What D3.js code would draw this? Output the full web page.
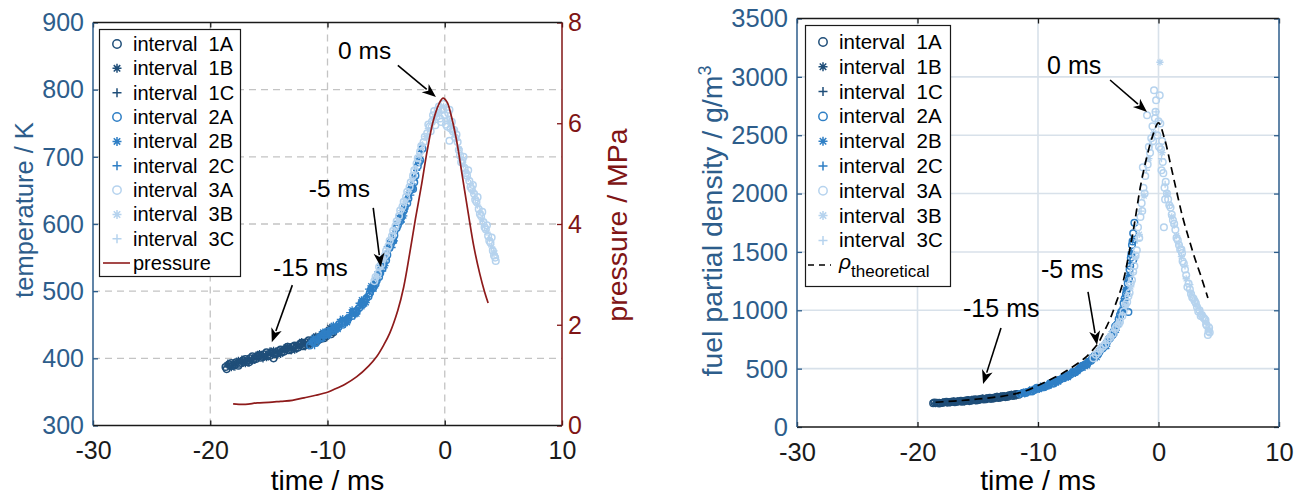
<!DOCTYPE html>
<html><head><meta charset="utf-8">
<script src="https://cdn.jsdelivr.net/npm/d3@7"></script>
<style>
html,body{margin:0;padding:0;background:#fff;}
svg text{font-family:"Liberation Sans",Arial,Helvetica,sans-serif;}
</style></head><body>
<svg id="c" width="1304" height="496"></svg>
<script>
// ---------------- DATA ----------------
const timeTicks = [-30,-20,-10,0,10];
const tempTicks = [300,400,500,600,700,800,900];
const pressTicks = [0,2,4,6,8];
const densTicks = [0,500,1000,1500,2000,2500,3000,3500];
const legendLabels = ["interval  1A","interval  1B","interval  1C","interval  2A","interval  2B","interval  2C","interval  3A","interval  3B","interval  3C"];

// temperature [time ms, K]
const T1A = [[-18.7,387],[-18.4,391],[-18.1,389],[-17.8,394],[-17.5,392],[-17.2,397],[-16.9,395],[-16.6,400],[-16.3,398],[-16.0,403],[-15.7,401],[-15.4,406],[-15.1,403],[-14.8,409],[-14.6,400],[-14.5,406],[-14.2,411],[-13.9,409],[-13.6,414],[-13.3,412],[-13.0,417],[-12.7,415],[-12.4,420],[-12.1,418],[-11.8,424],[-11.5,422],[-11.2,428],[-10.9,426],[-10.6,432],[-10.3,430],[-10.0,438],[-9.7,436],[-9.4,443],
  [-18.6,384],[-18.2,393],[-17.9,390],[-17.6,389],[-17.3,393],[-17.0,399],[-16.7,394],[-16.4,403],[-16.1,399],[-15.8,405],[-15.5,402],[-15.2,409],[-14.9,404],[-14.3,407],[-14.0,413],[-13.7,410],[-13.4,417],[-13.1,413],[-12.8,419],[-12.5,416],[-12.2,423],[-11.9,419],[-11.6,427],[-11.3,424],[-11.0,431],[-10.7,428],[-10.4,436],[-10.1,433],[-9.8,441],[-9.5,439]];
const T1B = [[-18.55,390],[-18.0,392],[-17.4,395],[-16.8,398],[-16.2,402],[-15.6,404],[-15.0,407],[-14.4,410],[-13.8,412],[-13.2,415],[-12.6,419],[-12.0,422],[-11.4,426],[-10.8,431],[-10.2,436],[-9.6,441],
  [-18.2,386],[-17.6,397],[-17.0,392],[-16.4,396],[-15.8,407],[-15.2,401],[-14.6,412],[-14.0,406],[-13.4,418],[-12.8,412],[-12.2,425],[-11.6,419],[-11.0,433],[-10.4,429],[-9.8,446]];
const T1C = [[-18.3,388],[-17.7,393],[-17.1,396],[-16.5,399],[-15.9,401],[-15.3,405],[-14.7,407],[-14.1,409],[-13.5,413],[-12.9,416],[-12.3,419],[-11.7,423],[-11.1,427],[-10.5,433],[-9.9,437],[-9.3,444],
  [-18.5,393],[-17.9,387],[-17.3,399],[-16.7,393],[-16.1,405],[-15.5,399],[-14.9,411],[-14.3,404],[-13.7,416],[-13.1,411],[-12.5,422],[-11.9,417],[-11.3,430],[-10.7,426],[-10.1,441]];
const T2A = [[-11.5,419],[-11.2,425],[-10.9,428],[-10.6,431],[-10.3,435],[-10.0,436],[-9.7,441],[-9.4,444],[-9.1,446],[-8.8,452],[-8.5,454],[-8.2,460],[-7.9,463],[-7.6,469],[-7.3,475],[-7.0,480],[-6.7,489],[-6.4,497],[-6.1,505],[-5.8,516],[-5.5,527],[-5.2,541],[-4.9,554],[-4.6,570],[-4.3,583],[-4.0,598],[-3.7,610],[-3.4,626],[-3.1,638],[-2.8,655],[-2.7,652],[-2.5,672],[-2.2,692],[-1.9,712],
  [-11.0,423],[-10.5,430],[-10.1,439],[-9.5,441],[-9.0,451],[-8.7,450],[-8.3,457],[-7.8,468],[-7.5,470],[-7.1,482],[-6.9,484],[-6.5,492],[-6.3,502],[-5.9,511],[-5.6,521],[-5.3,534],[-5.0,546],[-4.7,565],[-4.4,575],[-4.1,594],[-3.8,604],[-3.5,620],[-3.2,631],[-2.9,651],[-2.6,662],[-2.3,686],[-2.1,695]];
const T2B = [[-11.4,424],[-11.0,428],[-10.6,433],[-10.2,437],[-9.8,440],[-9.4,446],[-9.0,449],[-8.6,456],[-8.2,461],[-7.8,467],[-7.4,474],[-7.0,484],[-6.6,492],[-6.2,503],[-5.8,520],[-5.4,535],[-5.0,550],[-4.6,574],[-4.2,590],[-3.8,608],[-3.4,622],[-3.0,646],[-2.6,668],[-2.2,698],
  [-11.2,430],[-10.8,426],[-10.4,439],[-9.9,434],[-9.5,449],[-9.1,443],[-8.7,459],[-8.3,453],[-7.9,472],[-7.5,466],[-7.1,487],[-6.7,483],[-6.3,508],[-5.9,508],[-5.5,538],[-5.1,538],[-4.7,572],[-4.3,575],[-3.9,610],[-3.5,612],[-3.1,645],[-2.7,652]];
const T2C = [[-11.3,421],[-10.8,430],[-10.4,434],[-10.0,440],[-9.6,443],[-9.2,447],[-8.8,455],[-8.4,458],[-8.0,465],[-7.6,472],[-7.2,479],[-6.8,487],[-6.4,500],[-6.0,512],[-5.6,525],[-5.2,545],[-4.8,560],[-4.4,580],[-4.0,602],[-3.6,617],[-3.2,635],[-2.8,660],[-2.4,680],[-2.0,708],
  [-11.1,419],[-10.7,435],[-10.3,431],[-9.7,446],[-9.3,441],[-8.9,458],[-8.5,451],[-8.1,468],[-7.7,463],[-7.3,482],[-6.9,478],[-6.5,503],[-6.1,500],[-5.7,529],[-5.3,530],[-4.9,566],[-4.5,565],[-4.1,603],[-3.7,603],[-3.3,638],[-2.9,643],[-2.5,676]];
const T3A = [[-6.0,515],[-5.7,526],[-5.4,540],[-5.1,553],[-4.8,567],[-4.5,582],[-4.2,597],[-3.9,612],[-3.6,626],[-3.3,640],[-3.0,655],[-2.7,672],[-2.4,690],[-2.1,708],[-1.8,722],[-1.5,735],[-1.3,745],[-1.1,752],[-0.9,768],[-0.7,760],[-0.5,775],[-0.4,757],[-0.2,770],[0.0,762],[0.1,748],[0.3,765],[0.4,724],[0.5,742],[0.7,738],[0.9,728],[1.1,722],[1.3,702],[1.5,695],[1.7,683],[1.9,672],[2.1,664],[2.3,652],[2.5,645],[2.7,633],[2.9,622],[3.1,612],[3.3,603],[3.5,592],[3.7,582],[3.9,572],[4.1,560],[4.3,550],
  [-5.9,521],[-5.6,536],[-5.3,548],[-5.0,560],[-4.7,575],[-4.4,590],[-4.1,604],[-3.8,620],[-3.5,633],[-3.2,648],[-2.9,662],[-2.6,680],[-2.3,698],[-2.0,716],[-1.7,730],[-1.4,748],[-1.2,738],[-1.0,762],[-0.8,747],[-0.6,770],[-0.3,752],[-0.1,779],[0.2,745],[0.4,770],[0.6,752],[0.8,740],[1.0,733],[1.2,710],[1.4,692],[1.6,700],[1.8,676],[2.0,680],[2.2,655],[2.4,658],[2.6,636],[2.8,640],[3.0,615],[3.2,618],[3.4,595],[3.6,598],[3.8,575],[4.0,580],[4.2,553],[4.35,545]];
const T3B = [[-5.8,522],[-5.2,548],[-4.6,578],[-4.0,605],[-3.4,634],[-2.8,666],[-2.2,702],[-1.6,730],[-1.0,757],[-0.6,765],[-0.1,775],[0.4,752],[0.8,733],[1.2,712],[1.6,688],[2.0,668],[2.4,648],[2.8,628],[3.2,606],[3.6,588],[4.0,566],[4.2,556]];
const T3C = [[-5.5,533],[-4.9,560],[-4.3,591],[-3.7,620],[-3.1,648],[-2.5,682],[-1.9,718],[-1.4,742],[-0.8,760],[-0.3,768],[0.2,758],[0.6,745],[1.0,725],[1.4,698],[1.8,678],[2.2,660],[2.6,638],[3.0,618],[3.4,596],[3.8,578],[4.2,560]];

// pressure [time ms, MPa]
const pressure = [[-18.05,0.43],[-17,0.42],[-16,0.45],[-15,0.46],[-14,0.48],[-13,0.5],[-12,0.55],[-11,0.6],[-10,0.66],[-9.5,0.71],[-8.5,0.82],[-7.5,0.97],[-6.5,1.18],[-5.8,1.37],[-5.2,1.6],[-4.7,1.83],[-4.0,2.29],[-3.5,2.75],[-3.0,3.4],[-2.5,4.1],[-2.0,4.75],[-1.5,5.45],[-1.0,6.03],[-0.5,6.38],[-0.15,6.5],[0.2,6.42],[0.5,6.2],[1.0,5.67],[1.5,4.95],[2.0,4.22],[2.5,3.53],[3.0,3.0],[3.4,2.65],[3.7,2.43]];

// fuel partial density [time ms, g/m3]
const D1A = [[-18.7,203],[-18.4,208],[-18.1,205],[-17.8,212],[-17.5,209],[-17.2,216],[-16.9,213],[-16.6,221],[-16.3,217],[-16.0,226],[-15.7,222],[-15.4,233],[-15.1,228],[-14.8,240],[-14.5,235],[-14.2,246],[-13.9,241],[-13.6,253],[-13.3,248],[-13.0,262],[-12.7,256],[-12.4,272],[-12.1,266],[-11.8,282],[-11.6,276],
  [-18.6,210],[-18.2,201],[-17.9,207],[-17.6,215],[-17.3,211],[-17.0,220],[-16.7,216],[-16.4,224],[-16.1,220],[-15.8,230],[-15.5,226],[-15.2,237],[-14.9,232],[-14.6,244],[-14.3,238],[-14.0,250],[-13.7,245],[-13.4,258],[-13.1,252],[-12.8,266],[-12.5,260],[-12.2,276],[-11.9,270]];
const D1B = [[-18.55,206],[-18.0,209],[-17.4,214],[-16.8,218],[-16.2,223],[-15.6,229],[-15.0,236],[-14.4,242],[-13.8,249],[-13.2,257],[-12.6,266],[-12.0,274],[-11.7,284],
  [-18.2,212],[-17.6,208],[-17.0,222],[-16.4,217],[-15.8,233],[-15.2,226],[-14.6,247],[-14.0,240],[-13.4,262],[-12.8,254],[-12.2,280],[-11.8,270]];
const D1C = [[-18.3,210],[-17.7,210],[-17.1,217],[-16.5,222],[-15.9,225],[-15.3,232],[-14.7,238],[-14.1,245],[-13.5,252],[-12.9,259],[-12.3,270],[-11.9,279],
  [-18.5,201],[-17.9,214],[-17.3,208],[-16.7,224],[-16.1,216],[-15.5,236],[-14.9,230],[-14.3,249],[-13.7,243],[-13.1,264],[-12.5,258],[-12.0,282]];
const D2A = [[-11.5,283],[-11.2,293],[-10.9,300],[-10.6,310],[-10.3,318],[-10.0,328],[-9.7,338],[-9.4,350],[-9.1,360],[-8.8,378],[-8.5,388],[-8.2,405],[-7.9,418],[-7.6,435],[-7.3,450],[-7.0,468],[-6.7,488],[-6.4,510],[-6.1,532],[-5.8,558],[-5.5,585],[-5.2,612],[-4.9,645],[-4.6,680],[-4.3,722],[-4.0,765],[-3.7,820],[-3.5,870],[-3.3,925],[-3.1,985],[-2.9,1060],[-2.7,1140],[-2.55,1230],[-2.4,1350],[-2.3,1450],[-2.2,1560],[-2.1,1660],[-2.0,1750],[-2.5,985],[-2.1,1430],
  [-11.0,292],[-10.5,305],[-10.1,335],[-9.5,340],[-9.0,375],[-8.7,372],[-8.3,398],[-7.8,432],[-7.5,435],[-7.1,470],[-6.9,470],[-6.5,505],[-6.3,525],[-5.9,545],[-5.6,568],[-5.3,610],[-5.0,625],[-4.7,670],[-4.4,700],[-4.1,755],[-3.8,790],[-3.6,860],[-3.4,880],[-3.2,960],[-3.0,990],[-2.8,1100],[-2.65,1170],[-2.45,1270],[-2.35,1380],[-2.25,1480],[-2.15,1590]];
const D2B = [[-11.4,290],[-11.0,298],[-10.6,314],[-10.2,324],[-9.8,338],[-9.4,346],[-9.0,368],[-8.6,384],[-8.2,410],[-7.8,424],[-7.4,455],[-7.0,472],[-6.6,500],[-6.2,522],[-5.8,565],[-5.4,592],[-5.0,640],[-4.6,672],[-4.2,740],[-3.8,800],[-3.4,900],[-3.0,1010],[-2.7,1180],[-2.45,1300],[-2.25,1500],
  [-11.2,300],[-10.8,296],[-10.3,330],[-9.9,322],[-9.5,355],[-9.1,350],[-8.7,390],[-8.3,385],[-7.9,430],[-7.5,425],[-7.1,475],[-6.7,475],[-6.3,530],[-5.9,525],[-5.5,600],[-5.1,595],[-4.7,690],[-4.3,690],[-3.9,800],[-3.5,830],[-3.1,960],[-2.8,1080]];
const D2C = [[-11.3,288],[-10.8,305],[-10.4,318],[-10.0,334],[-9.6,342],[-9.2,358],[-8.8,372],[-8.4,395],[-8.0,415],[-7.6,440],[-7.2,460],[-6.8,485],[-6.4,515],[-6.0,545],[-5.6,575],[-5.2,620],[-4.8,660],[-4.4,705],[-4.0,770],[-3.6,845],[-3.2,950],[-2.85,1100],[-2.6,1250],[-2.35,1400],[-2.15,1600],
  [-11.1,284],[-10.7,318],[-10.2,318],[-9.8,350],[-9.3,345],[-8.9,380],[-8.5,378],[-8.1,420],[-7.7,418],[-7.3,462],[-6.9,460],[-6.5,515],[-6.1,510],[-5.7,580],[-5.3,585],[-4.9,670],[-4.5,675],[-4.1,770],[-3.7,790],[-3.3,900],[-2.95,1020],[-2.7,1130]];
const D3A = [[-5.4,590],[-5.0,640],[-4.6,690],[-4.2,745],[-3.8,800],[-3.5,860],[-3.2,900],[-2.9,990],[-2.6,1070],[-2.4,1150],[-2.2,1260],[-2.0,1380],[-1.8,1515],[-1.7,1712],[-1.5,1800],[-1.4,1918],[-1.25,2050],[-1.3,2226],[-1.1,2150],[-0.95,2671],[-0.8,2400],[-0.6,2474],[-0.5,2577],[-0.37,2885],[-0.3,2645],[-0.2,2800],[-0.1,2500],[0.1,2842],[0.15,2600],[0.2,2380],[0.35,2270],[0.4,2175],[0.5,2050],[0.45,1712],[0.6,2100],[0.8,1950],[1.0,1880],[1.2,1772],[1.4,1690],[1.6,1600],[1.8,1520],[1.95,1490],[2.1,1400],[2.3,1300],[2.4,1200],[2.6,1180],[2.8,1110],[3.0,1080],[3.2,1027],[3.4,1000],[3.6,960],[3.8,930],[3.9,916],[4.0,870],[4.1,788],[4.2,850],
  [-5.2,620],[-4.8,670],[-4.4,710],[-4.0,770],[-3.6,840],[-3.3,880],[-3.0,950],[-2.75,1050],[-2.5,1120],[-2.3,1230],[-2.1,1330],[-1.9,1470],[-1.6,1620],[-1.35,1850],[-1.15,2000],[-0.9,2250],[-0.7,2350],[-0.45,2450],[-0.25,2700],[0.0,2620],[0.05,2400],[0.25,2200],[0.3,2450],[0.55,1950],[0.7,2000],[0.9,1900],[1.1,1820],[1.3,1740],[1.5,1620],[1.7,1560],[1.9,1520],[2.0,1420],[2.2,1350],[2.5,1230],[2.7,1140],[2.9,1100],[3.1,1060],[3.3,990],[3.5,950],[3.7,940],[3.95,880],[4.15,820],[4.25,810]];
const D3B = [[-4.8,660],[-4.0,780],[-3.3,890],[-2.7,1040],[-2.3,1200],[-1.9,1450],[-1.6,1650],[-1.2,1980],[-0.8,2300],[-0.4,2520],[0.12,3125],[0.3,2350],[0.7,2000],[1.1,1800],[1.5,1640],[1.9,1460],[2.3,1270],[2.7,1150],[3.1,1050],[3.5,980],[3.9,900],[4.2,830]];
const D3C = [[-4.4,720],[-3.6,830],[-3.0,960],[-2.5,1120],[-2.1,1320],[-1.75,1600],[-1.45,1850],[-1.0,2200],[-0.6,2420],[-0.2,2700],[0.25,2300],[0.55,2080],[0.9,1900],[1.3,1730],[1.7,1560],[2.2,1380],[2.6,1220],[3.0,1090],[3.4,1010],[3.7,950],[4.1,880]];

// theoretical density [time ms, g/m3]
const rhoTheo = [[-18.5,212],[-17,222],[-16,230],[-15,240],[-14,250],[-13,263],[-12,282],[-11,310],[-10,355],[-9,405],[-8,458],[-7.5,490],[-6.5,560],[-6,600],[-5.5,655],[-5,719],[-4.5,820],[-4,930],[-3.5,1070],[-3,1220],[-2.5,1460],[-2,1740],[-1.5,2060],[-1,2300],[-0.5,2490],[0,2605],[0.5,2470],[1,2250],[1.5,2020],[2,1800],[2.5,1620],[3,1450],[3.5,1300],[4.1,1105]];

// annotations (data units): label, text position, arrow tail, arrow tip
const annotTemp = [
  {label:"0 ms",   text:[-9.1,846],  tail:[-4.0,836],  tip:[-0.75,789]},
  {label:"-5 ms",  text:[-11.6,640], tail:[-6.1,624],  tip:[-5.45,536]},
  {label:"-15 ms", text:[-14.65,523],tail:[-13.0,509], tip:[-14.75,424]}
];
const annotDens = [
  {label:"0 ms",   text:[-9.25,3025], tail:[-4.02,2973], tip:[-0.95,2699]},
  {label:"-5 ms",  text:[-9.75,1277], tail:[-5.85,1157], tip:[-5.10,703]},
  {label:"-15 ms", text:[-16.22,943], tail:[-13.07,848], tip:[-14.56,368]}
];

// ---------------- STYLE ----------------
const C1 = "#1f4e79", C2 = "#2f7fc5", C3 = "#b6d3ee";
const AXBLUE = "#2d5d8b", AXRED = "#801515", BLACK = "#1a1a1a";
const colors = [C1,C1,C1,C2,C2,C2,C3,C3,C3];
const mtypes = ["o","*","+","o","*","+","o","*","+"];
const fmt = d => String(d);

const svg = d3.select("#c");

function markerPath(type, cx, cy, s){
  if(type === "+") return `M${cx-s},${cy}H${cx+s}M${cx},${cy-s}V${cy+s}`;
  const d = s*0.72;
  return `M${cx-s},${cy}H${cx+s}M${cx},${cy-s}V${cy+s}M${cx-d},${cy-d}L${cx+d},${cy+d}M${cx-d},${cy+d}L${cx+d},${cy-d}`;
}
function drawSeries(g, data, type, color, x, y){
  if(type === "o"){
    g.selectAll(null).data(data).enter().append("circle")
      .attr("cx", d=>x(d[0])).attr("cy", d=>y(d[1])).attr("r", 3.3)
      .attr("fill","none").attr("stroke",color).attr("stroke-width",1.5);
  } else {
    g.selectAll(null).data(data).enter().append("path")
      .attr("d", d=>markerPath(type, x(d[0]), y(d[1]), 3.6))
      .attr("fill","none").attr("stroke",color).attr("stroke-width",1.3);
  }
}
function arrow(g, a, x, y, fs){
  g.append("text").attr("x", x(a.text[0])).attr("y", y(a.text[1]))
    .attr("font-size", fs).attr("fill", "#000").text(a.label);
  const x1 = x(a.tail[0]), y1 = y(a.tail[1]), x2 = x(a.tip[0]), y2 = y(a.tip[1]);
  const ang = Math.atan2(y2-y1, x2-x1), L = 14, W = 5.5;
  const bx = x2 - L*Math.cos(ang), by = y2 - L*Math.sin(ang);
  g.append("line").attr("x1",x1).attr("y1",y1).attr("x2",bx+2*Math.cos(ang)).attr("y2",by+2*Math.sin(ang))
    .attr("stroke","#000").attr("stroke-width",1.6);
  const px = -Math.sin(ang), py = Math.cos(ang);
  const mx = x2 - (L-4)*Math.cos(ang), my = y2 - (L-4)*Math.sin(ang);
  g.append("path").attr("d",`M${x2},${y2}L${bx+W*px},${by+W*py}L${mx},${my}L${bx-W*px},${by-W*py}Z`).attr("fill","#000");
}
function styleAxis(sel, color, fs){
  sel.select(".domain").remove();
  sel.selectAll(".tick line").attr("stroke", color).attr("stroke-width", 1.3);
  sel.selectAll(".tick text").attr("fill", color).attr("font-size", fs)
    .attr("font-family", "Liberation Sans, Arial, sans-serif");
}

// ================= LEFT PLOT =================
const xL = d3.scaleLinear().domain([-30,10]).range([93,562]);
const yT = d3.scaleLinear().domain([300,900]).range([425.5,22.5]);
const yP = d3.scaleLinear().domain([0,8]).range([425.5,22.5]);
const gL = svg.append("g");

gL.selectAll(null).data(timeTicks.slice(1,-1)).enter().append("line")
  .attr("x1",d=>xL(d)).attr("x2",d=>xL(d)).attr("y1",yT(900)).attr("y2",yT(300))
  .attr("stroke","#c4c4c4").attr("stroke-width",1.3).attr("stroke-dasharray","7,5");
gL.selectAll(null).data(tempTicks.slice(1,-1)).enter().append("line")
  .attr("y1",d=>yT(d)).attr("y2",d=>yT(d)).attr("x1",xL(-30)).attr("x2",xL(10))
  .attr("stroke","#c4c4c4").attr("stroke-width",1.3).attr("stroke-dasharray","7,5");

const tempSeries = [T1A,T1B,T1C,T2A,T2B,T2C,T3A,T3B,T3C];
const gLd = gL.append("g");
tempSeries.forEach((s,i)=>drawSeries(gLd, s, mtypes[i], colors[i], xL, yT));

gL.append("path").datum(pressure)
  .attr("d", d3.line().x(d=>xL(d[0])).y(d=>yP(d[1])).curve(d3.curveCatmullRom.alpha(0.5)))
  .attr("fill","none").attr("stroke","#8e1b1b").attr("stroke-width",1.7);

const axLB = gL.append("g").attr("transform",`translate(0,${yT(300)})`)
  .call(d3.axisBottom(xL).tickValues(timeTicks).tickFormat(fmt).tickSizeInner(-5).tickSizeOuter(0).tickPadding(15.5));
styleAxis(axLB, BLACK, 25);
const axLT = gL.append("g").attr("transform",`translate(0,${yT(900)})`)
  .call(d3.axisTop(xL).tickValues(timeTicks).tickSizeInner(-5).tickSizeOuter(0).tickFormat(""));
styleAxis(axLT, BLACK, 25);
const axLL = gL.append("g").attr("transform",`translate(${xL(-30)},0)`)
  .call(d3.axisLeft(yT).tickValues(tempTicks).tickFormat(fmt).tickSizeInner(-5).tickSizeOuter(0).tickPadding(9));
styleAxis(axLL, AXBLUE, 25);
axLL.selectAll(".tick text").attr("dy","0.33em");
const axLR = gL.append("g").attr("transform",`translate(${xL(10)},0)`)
  .call(d3.axisRight(yP).tickValues(pressTicks).tickFormat(fmt).tickSizeInner(-5).tickSizeOuter(0).tickPadding(6));
styleAxis(axLR, AXRED, 25);
axLR.selectAll(".tick text").attr("dy","0.33em");

gL.append("line").attr("x1",xL(-30)).attr("x2",xL(10)).attr("y1",yT(300)).attr("y2",yT(300)).attr("stroke",BLACK).attr("stroke-width",1.4);
gL.append("line").attr("x1",xL(-30)).attr("x2",xL(10)).attr("y1",yT(900)).attr("y2",yT(900)).attr("stroke",BLACK).attr("stroke-width",1.4);
gL.append("line").attr("x1",xL(-30)).attr("x2",xL(-30)).attr("y1",yT(300)).attr("y2",yT(900)).attr("stroke",AXBLUE).attr("stroke-width",1.5);
gL.append("line").attr("x1",xL(10)).attr("x2",xL(10)).attr("y1",yT(300)).attr("y2",yT(900)).attr("stroke",AXRED).attr("stroke-width",1.5);

gL.append("text").attr("x",xL(-10)).attr("y",490).attr("text-anchor","middle").attr("font-size",28).attr("fill","#000").text("time / ms");
gL.append("text").attr("transform","translate(33,210) rotate(-90)").attr("text-anchor","middle").attr("font-size",25.5).attr("fill",AXBLUE).text("temperature / K");
gL.append("text").attr("transform","translate(627,225) rotate(-90)").attr("text-anchor","middle").attr("font-size",28.5).attr("fill",AXRED).text("pressure / MPa");

annotTemp.forEach(a=>arrow(gL, a, xL, yT, 24.5));

const lgL = gL.append("g");
lgL.append("rect").attr("x",99.5).attr("y",29.5).attr("width",141).attr("height",247)
  .attr("fill","#fff").attr("stroke",BLACK).attr("stroke-width",1.2);
legendLabels.forEach((lab,i)=>{
  const yy = 44 + i*24.35;
  if(mtypes[i]==="o") lgL.append("circle").attr("cx",117).attr("cy",yy).attr("r",4.2).attr("fill","none").attr("stroke",colors[i]).attr("stroke-width",1.5);
  else lgL.append("path").attr("d",markerPath(mtypes[i],117,yy,4.5)).attr("fill","none").attr("stroke",colors[i]).attr("stroke-width",1.5);
  lgL.append("text").attr("x",133).attr("y",yy+7).attr("font-size",20).attr("fill","#000").style("white-space","pre").text(lab);
});
lgL.append("line").attr("x1",103).attr("x2",130).attr("y1",263).attr("y2",263).attr("stroke","#8e1b1b").attr("stroke-width",1.6);
lgL.append("text").attr("x",133).attr("y",270).attr("font-size",20).attr("fill","#000").text("pressure");

// ================= RIGHT PLOT =================
const xR = d3.scaleLinear().domain([-30,10]).range([797,1279]);
const yD = d3.scaleLinear().domain([0,3500]).range([427,18.5]);
const gR = svg.append("g");

gR.selectAll(null).data(timeTicks.slice(1,-1)).enter().append("line")
  .attr("x1",d=>xR(d)).attr("x2",d=>xR(d)).attr("y1",yD(3500)).attr("y2",yD(0))
  .attr("stroke","#d8e1ea").attr("stroke-width",1.6);
gR.selectAll(null).data(densTicks.slice(1,-1)).enter().append("line")
  .attr("y1",d=>yD(d)).attr("y2",d=>yD(d)).attr("x1",xR(-30)).attr("x2",xR(10))
  .attr("stroke","#d8e1ea").attr("stroke-width",1.6);

const densSeries = [D1A,D1B,D1C,D2A,D2B,D2C,D3A,D3B,D3C];
const gRd = gR.append("g");
densSeries.forEach((s,i)=>drawSeries(gRd, s, mtypes[i], colors[i], xR, yD));

gR.append("path").datum(rhoTheo)
  .attr("d", d3.line().x(d=>xR(d[0])).y(d=>yD(d[1])).curve(d3.curveCatmullRom.alpha(0.5)))
  .attr("fill","none").attr("stroke","#000").attr("stroke-width",1.7).attr("stroke-dasharray","8,5");

const axRB = gR.append("g").attr("transform",`translate(0,${yD(0)})`)
  .call(d3.axisBottom(xR).tickValues(timeTicks).tickFormat(fmt).tickSizeInner(-5).tickSizeOuter(0).tickPadding(15.5));
styleAxis(axRB, BLACK, 25.5);
const axRT = gR.append("g").attr("transform",`translate(0,${yD(3500)})`)
  .call(d3.axisTop(xR).tickValues(timeTicks).tickSizeInner(-5).tickSizeOuter(0).tickFormat(""));
styleAxis(axRT, BLACK, 25);
const axRL = gR.append("g").attr("transform",`translate(${xR(-30)},0)`)
  .call(d3.axisLeft(yD).tickValues(densTicks).tickFormat(fmt).tickSizeInner(-5).tickSizeOuter(0).tickPadding(9));
styleAxis(axRL, AXBLUE, 25.5);
axRL.selectAll(".tick text").attr("dy","0.33em");
const axRR = gR.append("g").attr("transform",`translate(${xR(10)},0)`)
  .call(d3.axisRight(yD).tickValues(densTicks).tickSizeInner(-5).tickSizeOuter(0).tickFormat(""));
styleAxis(axRR, AXBLUE, 25);

gR.append("line").attr("x1",xR(-30)).attr("x2",xR(10)).attr("y1",yD(0)).attr("y2",yD(0)).attr("stroke",BLACK).attr("stroke-width",1.4);
gR.append("line").attr("x1",xR(-30)).attr("x2",xR(10)).attr("y1",yD(3500)).attr("y2",yD(3500)).attr("stroke",BLACK).attr("stroke-width",1.4);
gR.append("line").attr("x1",xR(-30)).attr("x2",xR(-30)).attr("y1",yD(0)).attr("y2",yD(3500)).attr("stroke",AXBLUE).attr("stroke-width",1.5);
gR.append("line").attr("x1",xR(10)).attr("x2",xR(10)).attr("y1",yD(0)).attr("y2",yD(3500)).attr("stroke",AXBLUE).attr("stroke-width",1.5);

gR.append("text").attr("x",xR(-10)).attr("y",490).attr("text-anchor","middle").attr("font-size",28.5).attr("fill","#000").text("time / ms");
const yl = gR.append("text").attr("transform","translate(722,221) rotate(-90)").attr("text-anchor","middle").attr("font-size",28.5).attr("fill",AXBLUE);
yl.append("tspan").text("fuel partial density / g/m");
yl.append("tspan").attr("font-size",18).attr("dy",-11).text("3");

annotDens.forEach(a=>arrow(gR, a, xR, yD, 25));

const lgR = gR.append("g");
lgR.append("rect").attr("x",805.5).attr("y",25.5).attr("width",145).attr("height",261)
  .attr("fill","#fff").attr("stroke",BLACK).attr("stroke-width",1.2);
legendLabels.forEach((lab,i)=>{
  const yy = 42 + i*24.8;
  if(mtypes[i]==="o") lgR.append("circle").attr("cx",823).attr("cy",yy).attr("r",4.2).attr("fill","none").attr("stroke",colors[i]).attr("stroke-width",1.5);
  else lgR.append("path").attr("d",markerPath(mtypes[i],823,yy,4.5)).attr("fill","none").attr("stroke",colors[i]).attr("stroke-width",1.5);
  lgR.append("text").attr("x",839).attr("y",yy+7).attr("font-size",20.5).attr("fill","#000").style("white-space","pre").text(lab);
});
lgR.append("line").attr("x1",808).attr("x2",831).attr("y1",265).attr("y2",265).attr("stroke","#000").attr("stroke-width",1.5).attr("stroke-dasharray","6,5");
const rt = lgR.append("text").attr("x",839).attr("y",269).attr("font-size",21).attr("fill","#000");
rt.append("tspan").attr("font-style","italic").text("ρ");
rt.append("tspan").attr("font-size",17).attr("dy",8).text("theoretical");
</script>
</body></html>
